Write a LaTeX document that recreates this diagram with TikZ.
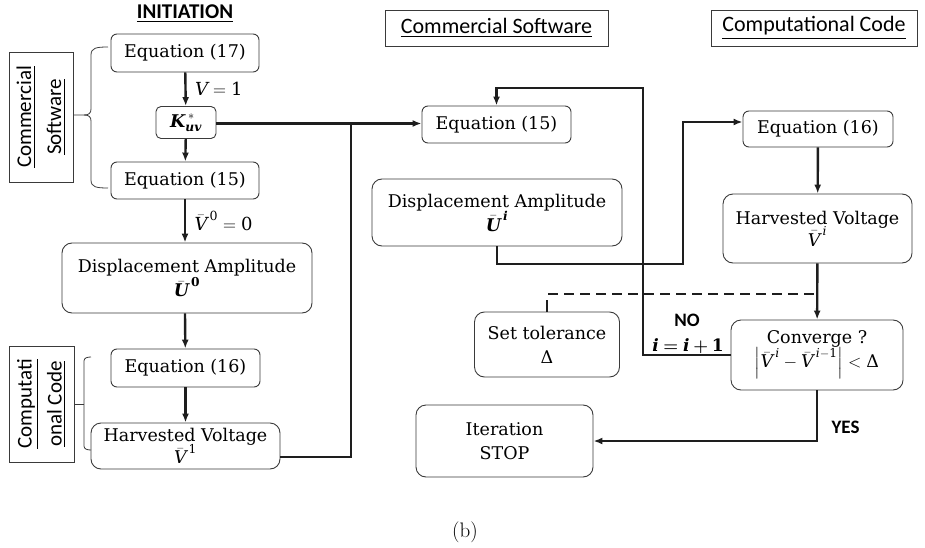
\RequirePackage{fix-cm}
\documentclass[tikz,border=0pt]{standalone}
\usepackage{amsmath}
\usepackage{fontspec}
\newfontfamily\boxserif{DejaVu Serif}
\newfontfamily\lblsans{Carlito}
\usetikzlibrary{arrows.meta}
\definecolor{boxline}{HTML}{3A3A3A}
\definecolor{flow}{HTML}{1E1E1E}

% symbols set in the serif text face so they match the box labels
\newcommand{\mIt}[1]{\text{\boxserif\itshape #1}}
\newcommand{\mBf}[1]{\text{\boxserif\bfseries\itshape #1}}
\newcommand{\mUp}[1]{\text{\boxserif #1}}
\newcommand{\mUpBf}[1]{\text{\boxserif\bfseries #1}}
% superscript with a little room after an italic capital
\newcommand{\upidx}[1]{^{\mkern3mu #1}}

\tikzset{
  stepbox/.style={draw=boxline, line width=0.9pt, rounded corners=6pt, align=center,
    inner sep=0pt, font=\boxserif\fontsize{17.5}{25}\selectfont},
  bigbox/.style={stepbox, rounded corners=10pt},
  tagbox/.style={draw=boxline, line width=0.8pt, align=center, inner sep=0pt,
    font=\lblsans\fontsize{22}{30}\selectfont},
  flowline/.style={draw=flow, line width=2.4pt},
  flowarrow/.style={flowline, -{Latex[length=9pt,width=7pt]}},
  bracket/.style={draw=boxline, line width=0.8pt},
  flowlbl/.style={font=\boxserif\fontsize{18}{22}\selectfont},
  decision/.style={font=\lblsans\bfseries\fontsize{19}{22}\selectfont}
}

\begin{document}
\begin{tikzpicture}[x=1pt,y=-1pt]
\useasboundingbox (0,0) rectangle (925,548);

% ---- headings ----
\node[font=\lblsans\bfseries\fontsize{21}{24}\selectfont] (init) at (185,14) {\underline{INITIATION}};
\node[tagbox, minimum width=223, minimum height=36] (tagcs) at (496.5,28) {\underline{Commercial Software}};
\node[tagbox, minimum width=206, minimum height=36] (tagcc) at (814,28) {\underline{Computational Code}};

% ---- initiation column ----
\node[stepbox, minimum width=148, minimum height=38] (eqA) at (185,53) {Equation (17)};
\node[stepbox, rounded corners=5pt, minimum width=60, minimum height=32] (K) at (186,122.5) {$\mBf{K}^{\mkern4mu *}_{\mBf{uv}}$};
\node[stepbox, minimum width=148, minimum height=37] (eqB) at (185,180.5) {Equation (15)};
\node[bigbox, minimum width=250, minimum height=70] (dis0) at (187,278) {Displacement Amplitude\\[-1pt] $\bar{\mBf{U}}\upidx{\mUpBf{0}}$};
\node[stepbox, minimum width=149, minimum height=38] (eqC) at (185.5,368) {Equation (16)};
\node[bigbox, minimum width=189, minimum height=46] (hv1) at (185.5,446) {Harvested Voltage\\[-3pt] $\bar{\mIt{V}}\upidx{\mUp{1}}$};

% side tags with brackets
\node[tagbox, rotate=90, minimum width=130, minimum height=64, font=\lblsans\fontsize{21}{30}\selectfont] (vcs) at (41,117) {\underline{Commercial}\\\underline{Software}};
\node[tagbox, rotate=90, minimum width=116, minimum height=65, font=\lblsans\fontsize{21}{30}\selectfont] (vcc) at (41.5,404) {\underline{Computati}\\\underline{onal Code}};

\draw[bracket] (108,47) .. controls (96,47) and (91,48) .. (91,55) -- (91,109)
  .. controls (91,113) and (89,115) .. (84,115) -- (vcs.south |- 0,115);
\draw[bracket] (84,115) .. controls (89,115) and (91,117) .. (91,121) -- (91,180)
  .. controls (91,187) and (96,188) .. (108,188);
\draw[bracket] (91,357) .. controls (87,357) and (84,358) .. (84,361) -- (84,446)
  .. controls (84,449) and (87,450) .. (91,450);
\draw[bracket] (84,404) -- (vcc.south |- 0,404);

% initiation flow
\draw[flowarrow] (eqA) -- node[flowlbl, right=5pt] {$\mIt{V} = \mUp{1}$} (K);
\draw[flowarrow] (K) -- (eqB);
\draw[flowarrow] (eqB) -- node[flowlbl, right=5pt] {$\bar{\mIt{V}}\upidx{\mUp{0}} = \mUp{0}$} (eqB |- dis0.north);
\draw[flowarrow] (dis0.south -| eqB) -- (eqC);
\draw[flowarrow] (eqC) -- (hv1);

% ---- iteration ----
\node[stepbox, minimum width=149, minimum height=37] (eqD) at (496.5,124.5) {Equation (15)};
\node[bigbox, minimum width=250, minimum height=67] (disi) at (497,212.5) {Displacement Amplitude\\[-1pt] $\bar{\mBf{U}}\upidx{\mBf{i}}$};
\node[stepbox, minimum width=150, minimum height=36] (eqE) at (818,129) {Equation (16)};
\node[bigbox, minimum width=189, minimum height=69] (hvi) at (817.5,228.5) {Harvested Voltage\\[-3pt] $\bar{\mIt{V}}\upidx{\mIt{i}}$};
\node[bigbox, minimum width=172, minimum height=70] (conv) at (817,355) {Converge ?\\[-1pt] $\left|\bar{\mIt{V}}\upidx{\mIt{i}} - \bar{\mIt{V}}\upidx{\mIt{i}-\mUp{1}}\right| < \mUp{Δ}$};
\node[bigbox, minimum width=145, minimum height=65] (tol) at (547,344.5) {Set tolerance\\[-1pt] Δ};
\node[bigbox, minimum width=177, minimum height=72] (stop) at (504.5,441) {Iteration\\[-1pt] STOP};

\coordinate (join) at (351,123.5);
\coordinate (kin) at (K.east |- join);
\draw[flowarrow] (kin) -- (kin -| eqD.west);
\draw[flowline] ([yshift=-11pt]hv1.east) -| (join);

\coordinate (uturn) at (683,264);
\draw[flowarrow] (disi.south) |- (uturn) |- ([yshift=7pt]eqE.west);
\draw[flowarrow] (eqE) -- (hvi);
\draw[flowarrow] (hvi) -- (conv);

\coordinate (loop) at (643,88);
\draw[flowarrow] (conv.west) -| (loop) -| (eqD.north);
\node[decision] (nolbl) at (687,320) {NO};
\node[decision, font=\lblsans\bfseries\fontsize{17}{20}\selectfont] (inc) at (688,346) {$\mBf{i} \mathrel{\boldsymbol{=}} \mBf{i} \mathbin{\boldsymbol{+}} \mUpBf{1}$};

\draw[flowarrow] (conv.south) |- (stop.east);
\node[decision, anchor=west] (yeslbl) at (828,427) {YES};

\coordinate (tolbend) at (548,294);
\draw[draw=flow, line width=2.4pt, dash pattern=on 10pt off 6pt] (tolbend) -- (tolbend -| conv.north);
\draw[flowline] (tol.north) -- ++(0,-12);

% ---- caption ----
\node[font=\fontsize{21}{24}\selectfont] (cap) at (465,532) {(b)};
\end{tikzpicture}
\end{document}
